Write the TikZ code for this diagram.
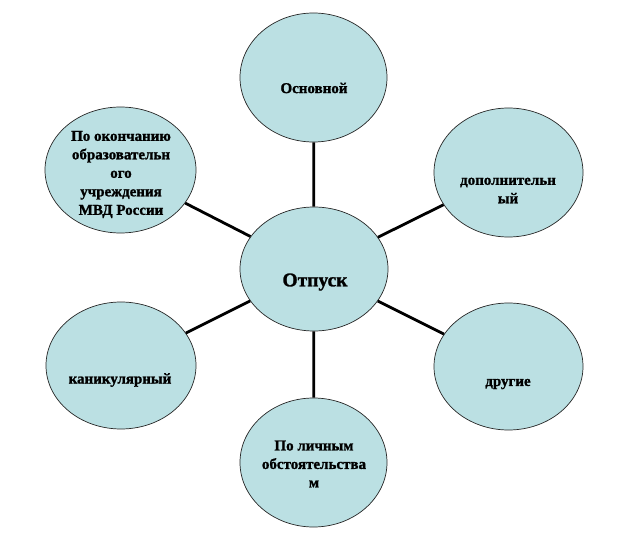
\documentclass[tikz,border=0pt]{standalone}
\usepackage{fontspec}
\setmainfont{Liberation Serif}[BoldFeatures={FakeBold=1.3}]
\usetikzlibrary{shapes.geometric}
\definecolor{bubble}{RGB}{187,224,227}
\tikzset{
  bub/.style={ellipse, draw=black!85, line width=0.7pt, fill=bubble, inner sep=0pt},
  txt/.style={align=center, inner sep=0pt, font=\fontsize{15}{18.5}\selectfont\bfseries},
  bigtxt/.style={align=center, inner sep=0pt, font=\fontsize{19.5}{22}\selectfont\bfseries},
  link/.style={draw=black, line width=2.8pt}
}
\begin{document}
\begin{tikzpicture}[x=1pt,y=-1pt]
\useasboundingbox (0,0) rectangle (629,540);
\node[bub, minimum width=148pt, minimum height=124pt] (main) at (314,269) {};
\node[bub, minimum width=147pt, minimum height=129pt] (top) at (313.5,77.5) {};
\node[bub, minimum width=149pt, minimum height=129pt] (ur) at (508.5,172.5) {};
\node[bub, minimum width=149pt, minimum height=127pt] (lr) at (508.5,366.5) {};
\node[bub, minimum width=147pt, minimum height=129pt] (bot) at (313.5,462.5) {};
\node[bub, minimum width=150pt, minimum height=127pt] (ll) at (121,365.5) {};
\node[bub, minimum width=151pt, minimum height=126pt] (ul) at (120.5,170) {};
\draw[link] (main) -- (top);
\draw[link] (main) -- (ur);
\draw[link] (main) -- (lr);
\draw[link] (main) -- (bot);
\draw[link] (main) -- (ll);
\draw[link] (main) -- (ul);
\node[bigtxt] (maint) at (315,282) {Отпуск};
\node[txt] (topt) at (314,88) {Основной};
\node[txt] (urt) at (508,190.5) {дополнительн\\ый};
\node[txt] (lrt) at (508,384) {другие};
\node[txt] (bott) at (314,464) {По личным\\обстоятельства\\м};
\node[txt] (llt) at (120,380) {каникулярный};
\node[txt] (ult) at (121,174.5) {По окончанию\\образовательн\\ого\\учреждения\\МВД России};
\end{tikzpicture}
\end{document}
